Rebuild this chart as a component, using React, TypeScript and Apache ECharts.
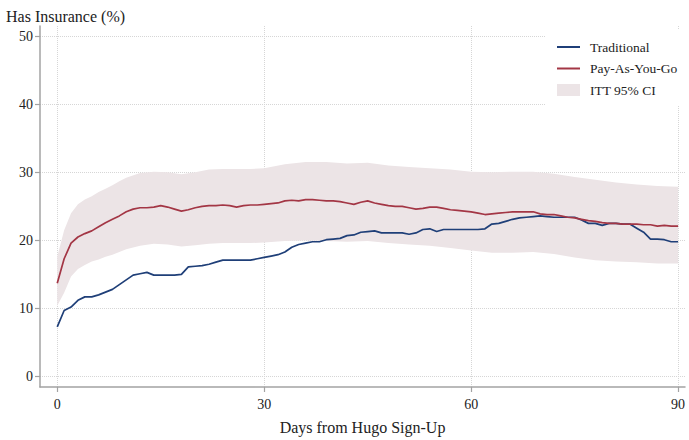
import React, { useEffect, useRef } from "react";
import * as echarts from "echarts";

const days: number[] = Array.from({ length: 91 }, (_, i) => i);

const traditional: number[] = [
  7.3, 9.7, 10.2, 11.2, 11.7, 11.7, 12.0, 12.4, 12.8, 13.5,
  14.2, 14.9, 15.1, 15.3, 14.9, 14.9, 14.9, 14.9, 15.0, 16.1,
  16.2, 16.3, 16.5, 16.8, 17.1, 17.1, 17.1, 17.1, 17.1, 17.3,
  17.5, 17.7, 17.9, 18.3, 19.0, 19.4, 19.6, 19.8, 19.8, 20.1,
  20.2, 20.3, 20.7, 20.8, 21.2, 21.3, 21.4, 21.1, 21.1, 21.1,
  21.1, 20.9, 21.1, 21.6, 21.7, 21.3, 21.6, 21.6, 21.6, 21.6,
  21.6, 21.6, 21.7, 22.4, 22.5, 22.8, 23.1, 23.3, 23.4, 23.5,
  23.6, 23.5, 23.4, 23.4, 23.4, 23.4, 23.0, 22.5, 22.5, 22.2,
  22.5, 22.5, 22.4, 22.4, 21.8, 21.2, 20.2, 20.2, 20.1, 19.8,
  19.8,
];

const payg: number[] = [
  13.7, 17.3, 19.6, 20.5, 21.0, 21.4, 22.0, 22.6, 23.1, 23.6,
  24.2, 24.6, 24.8, 24.8, 24.9, 25.1, 24.9, 24.6, 24.3, 24.5,
  24.8, 25.0, 25.1, 25.1, 25.2, 25.1, 24.9, 25.1, 25.2, 25.2,
  25.3, 25.4, 25.5, 25.8, 25.9, 25.8, 26.0, 26.0, 25.9, 25.8,
  25.8, 25.7, 25.5, 25.3, 25.6, 25.8, 25.5, 25.3, 25.1, 25.0,
  25.0, 24.8, 24.6, 24.7, 24.9, 24.9, 24.7, 24.5, 24.4, 24.3,
  24.2, 24.0, 23.8, 23.9, 24.0, 24.1, 24.2, 24.2, 24.2, 24.2,
  23.9, 23.8, 23.8, 23.6, 23.4, 23.3, 23.1, 22.9, 22.8, 22.6,
  22.5, 22.5, 22.4, 22.4, 22.4, 22.3, 22.3, 22.1, 22.2, 22.1,
  22.1,
];

const bandDays: number[] = [
  0, 1, 2, 3, 4, 5, 6, 7, 8, 9, 10, 12, 14, 16, 18, 20, 22, 24, 26, 28,
  30, 33, 36, 39, 42, 45, 48, 51, 54, 57, 60, 63, 66, 69, 72, 75, 78, 81, 84, 87, 90,
];

const ciUpper: number[] = [
  17.6, 21.5, 24.0, 25.3, 26.0, 26.5, 27.1, 27.6, 28.1, 28.7, 29.2, 29.9, 30.1, 30.0, 29.7, 30.0, 30.4, 30.5, 30.5, 30.5,
  30.6, 31.2, 31.5, 31.5, 31.3, 31.4, 31.0, 30.8, 30.6, 30.4, 30.1, 30.0, 30.1, 30.1, 29.8, 29.3, 28.9, 28.5, 28.2, 28.0, 27.9,
];

const ciLower: number[] = [
  10.4, 12.3, 14.7, 15.8, 16.4, 16.9, 17.2, 17.6, 17.9, 18.3, 18.7, 19.2, 19.5, 19.4, 19.1, 19.3, 19.5, 19.6, 19.6, 19.6,
  19.7, 19.9, 20.0, 19.9, 19.8, 19.9, 19.6, 19.4, 19.2, 18.9, 18.5, 18.2, 18.2, 18.3, 18.0, 17.5, 17.1, 16.9, 16.8, 16.6, 16.6,
];

const xTicks: number[] = [0, 30, 60, 90];
const yTicks: number[] = [0, 10, 20, 30, 40, 50];

const FONT = "'Liberation Serif', 'DejaVu Serif', serif";
const BLUE = "#1f3f78";
const RED = "#a33645";
const BAND = "#ece4e6";
const AXIS = "#a3a3a3";
const GRID = "#d6d6d6";
const TEXT = "#222222";
const LINE_ICON = "path://M0,0L46,0L46,4L0,4Z";

export default function App() {
  const ref = useRef<HTMLDivElement>(null);

  useEffect(() => {
    if (!ref.current) return;
    const chart = echarts.init(ref.current, null, { renderer: "svg" });
    const option: any = {
      animation: false,
      backgroundColor: "#ffffff",
      title: {
        text: "Has Insurance (%)",
        left: 1,
        top: 3,
        textStyle: { fontFamily: FONT, fontSize: 16, fontWeight: "normal", color: TEXT },
      },
      legend: {
        orient: "vertical",
        left: 545,
        top: 30,
        backgroundColor: "#ffffff",
        padding: [10, 8, 8, 12],
        itemWidth: 23,
        itemHeight: 12,
        itemGap: 7.5,
        textStyle: { fontFamily: FONT, fontSize: 13.5, color: TEXT, padding: [0, 0, 0, 5] },
        data: [
          { name: "Traditional", icon: LINE_ICON },
          { name: "Pay-As-You-Go", icon: LINE_ICON },
          { name: "ITT 95% CI", icon: "rect" },
        ],
      },
      grid: { left: 40, right: 4, top: 26, bottom: 48, containLabel: false },
      xAxis: {
        type: "value",
        min: -2.5,
        max: 91,
        name: "Days from Hugo Sign-Up",
        nameLocation: "middle",
        nameGap: 32,
        nameTextStyle: { fontFamily: FONT, fontSize: 16, color: TEXT },
        axisLine: { show: true, onZero: false, lineStyle: { color: AXIS, width: 1.5 } },
        axisTick: { show: true, length: 5, customValues: xTicks, lineStyle: { color: AXIS, width: 1.2 } },
        axisLabel: { customValues: xTicks, fontFamily: FONT, fontSize: 14, color: TEXT, margin: 10 },
        splitLine: { show: true, lineStyle: { type: "dotted", color: GRID, width: 1 } },
      },
      yAxis: {
        type: "value",
        min: -1.54,
        max: 51.5,
        axisLine: { show: true, onZero: false, lineStyle: { color: AXIS, width: 1.5 } },
        axisTick: { show: true, length: 5, customValues: yTicks, lineStyle: { color: AXIS, width: 1.2 } },
        axisLabel: { customValues: yTicks, fontFamily: FONT, fontSize: 14, color: TEXT, margin: 7 },
        splitLine: { show: true, lineStyle: { type: "dotted", color: GRID, width: 1 } },
      },
      series: [
        {
          name: "ITT 95% CI",
          type: "custom",
          silent: true,
          color: BAND,
          itemStyle: { color: BAND },
          encode: { x: 0, y: [1, 2] },
          data: bandDays.map((d, i) => [d, ciLower[i], ciUpper[i]]),
          renderItem: (params: any, api: any) => {
            if (params.dataIndex !== 0) return null;
            const upper = bandDays.map((d, i) => api.coord([d, ciUpper[i]]));
            const lower = bandDays.map((d, i) => api.coord([d, ciLower[i]])).reverse();
            return {
              type: "polygon",
              shape: { points: upper.concat(lower) },
              style: { fill: BAND, stroke: "none" },
            };
          },
          z: 1,
        },
        {
          name: "Traditional",
          type: "line",
          symbol: "none",
          color: BLUE,
          lineStyle: { color: BLUE, width: 1.7 },
          data: days.map((d, i) => [d, traditional[i]]),
          z: 3,
        },
        {
          name: "Pay-As-You-Go",
          type: "line",
          symbol: "none",
          color: RED,
          lineStyle: { color: RED, width: 1.7 },
          data: days.map((d, i) => [d, payg[i]]),
          z: 3,
        },
      ],
    };
    chart.setOption(option);
    return () => {
      chart.dispose();
    };
  }, []);

  return (
    <div
      ref={ref}
      style={{ position: "fixed", left: 0, top: 0, width: 689, height: 440, background: "#fff" }}
    />
  );
}
